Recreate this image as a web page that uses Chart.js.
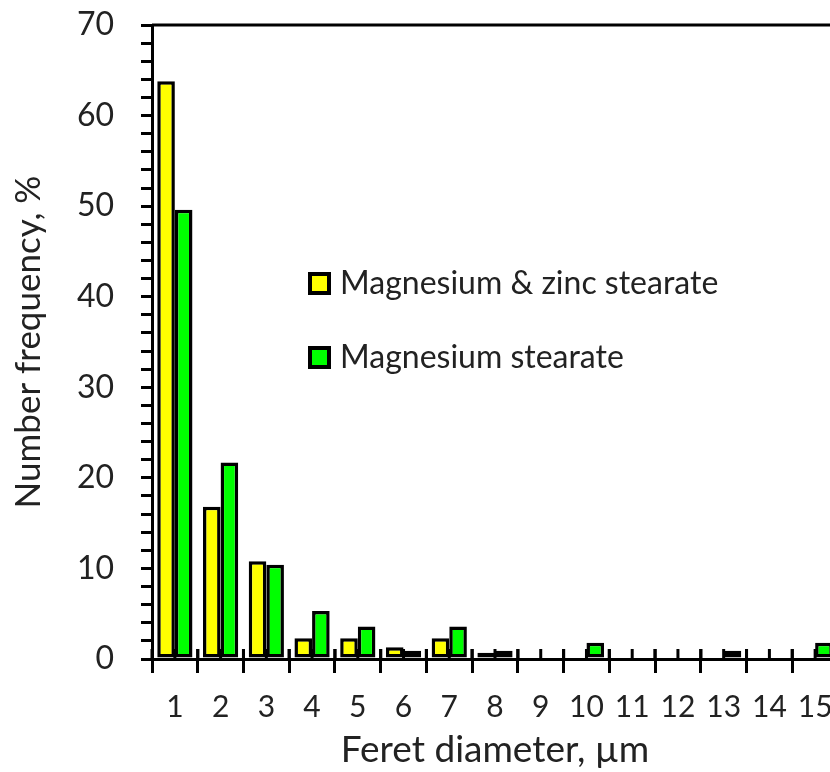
<!DOCTYPE html>
<html>
<head>
<meta charset="utf-8">
<script src="https://cdn.jsdelivr.net/npm/chart.js@4"></script>
<style>
  html, body { margin: 0; padding: 0; background: #fff; overflow: hidden; }
  #wrap { width: 838px; height: 772px; position: relative; }
</style>
</head>
<body>
<div id="wrap"><canvas id="chart"></canvas></div>
<script>
const diameters = [ '1', '2', '3', '4', '5', '6', '7', '8', '9', '10', '11', '12', '13', '14', '15' ]
const mgZnStearate = [ 63.8, 16.8, 10.8, 2.3, 2.3, 1.3, 2.3, 0.7, 0, 0, 0, 0, 0, 0, 0 ]
const mgStearate = [ 49.6, 21.7, 10.4, 5.3, 3.6, 0.9, 3.6, 0.9, 0, 1.8, 0, 0, 0.9, 0, 1.8 ]
const yTicks = [ 0, 10, 20, 30, 40, 50, 60, 70 ]

const FONT = 'Lato'
const INK = '#222'

// short ticks pointing up into the plot, behind the bars
const innerTicks = {
  id: 'innerTicks',
  beforeDatasetsDraw( chart ) {
    const { ctx, scales: { x, y } } = chart
    const half = ( x.getPixelForValue( 1 ) - x.getPixelForValue( 0 ) ) / 2
    const base = y.getPixelForValue( 0 )
    ctx.save()
    ctx.strokeStyle = '#000'
    ctx.lineWidth = 3
    for ( let i = 0; i < diameters.length; i++ ) {
      const c = x.getPixelForValue( i )
      for ( const px of [ c - half, c, c + half ] ) {
        ctx.beginPath()
        ctx.moveTo( px, base )
        ctx.lineTo( px, base - 10 )
        ctx.stroke()
      }
    }
    ctx.restore()
  }
}

// top frame line + legend inside the plot
const frameAndLegend = {
  id: 'frameAndLegend',
  afterDraw( chart ) {
    const { ctx, chartArea: a } = chart
    ctx.save()
    ctx.strokeStyle = '#000'
    ctx.lineWidth = 3
    ctx.beginPath()
    ctx.moveTo( a.left, a.top )
    ctx.lineTo( chart.width, a.top )
    ctx.stroke()

    const rows = [ 247, 321 ]
    chart.data.datasets.forEach( ( ds, i ) => {
      const bx = a.left + 156, by = a.top + rows[ i ]
      ctx.fillStyle = ds.backgroundColor
      ctx.fillRect( bx, by, 23, 23 )
      ctx.lineWidth = 4
      ctx.strokeStyle = '#000'
      ctx.strokeRect( bx + 2, by + 2, 19, 19 )
      ctx.fillStyle = INK
      ctx.font = `32px ${FONT}`
      ctx.textBaseline = 'middle'
      ctx.fillText( ds.label, bx + 32, by + 12 )
    } )
    ctx.restore()
  }
}

new Chart( document.getElementById( 'chart' ), {
  type: 'bar',
  data: {
    labels: diameters,
    datasets: [
      {
        label: 'Magnesium & zinc stearate',
        data: mgZnStearate,
        backgroundColor: '#ffff00',
        borderColor: '#000',
        borderWidth: 3.5,
        borderSkipped: false
      },
      {
        label: 'Magnesium stearate',
        data: mgStearate,
        backgroundColor: '#00ff00',
        borderColor: '#000',
        borderWidth: 3.5,
        borderSkipped: false
      }
    ]
  },
  options: {
    responsive: true,
    maintainAspectRatio: false,
    animation: false,
    layout: { padding: { top: 25, right: 0, bottom: 0, left: 0 } },
    datasets: { bar: { categoryPercentage: 0.77, barPercentage: 1 } },
    plugins: {
      legend: { display: false },
      tooltip: { enabled: false }
    },
    scales: {
      x: {
        grid: { drawOnChartArea: false, offset: true, tickLength: 14, lineWidth: 3, color: '#000' },
        border: { display: true, width: 3, color: '#000' },
        ticks: { color: INK, font: { family: FONT, size: 30 }, padding: 16, maxRotation: 0, autoSkip: false },
        title: {
          display: true,
          text: 'Feret diameter, µm',
          color: INK,
          font: { family: FONT, size: 37 },
          padding: { top: 0, bottom: 0 }
        },
        afterFit( s ) {
          s.height = 113
          s.paddingLeft = 0
          s.paddingRight = 0
        }
      },
      y: {
        min: 0,
        max: 70,
        afterBuildTicks( s ) {
          const t = []
          for ( let v = 0; v <= 70; v += 2 ) t.push( { value: v } )
          s.ticks = t
        },
        grid: { drawOnChartArea: false, tickLength: 11, lineWidth: 3, color: '#000' },
        border: { display: true, width: 3, color: '#000' },
        ticks: {
          color: INK,
          font: { family: FONT, size: 32 },
          padding: 27,
          autoSkip: false,
          callback: v => yTicks.includes( v ) ? String( v ) : ''
        },
        title: {
          display: true,
          text: 'Number frequency, %',
          color: INK,
          font: { family: FONT, size: 35 },
          padding: { top: 8, bottom: 0 }
        },
        afterFit( s ) {
          s.width = 152
          s.paddingTop = 0
          s.paddingBottom = 0
        }
      }
    }
  },
  plugins: [ innerTicks, frameAndLegend ]
} )
</script>
</body>
</html>
